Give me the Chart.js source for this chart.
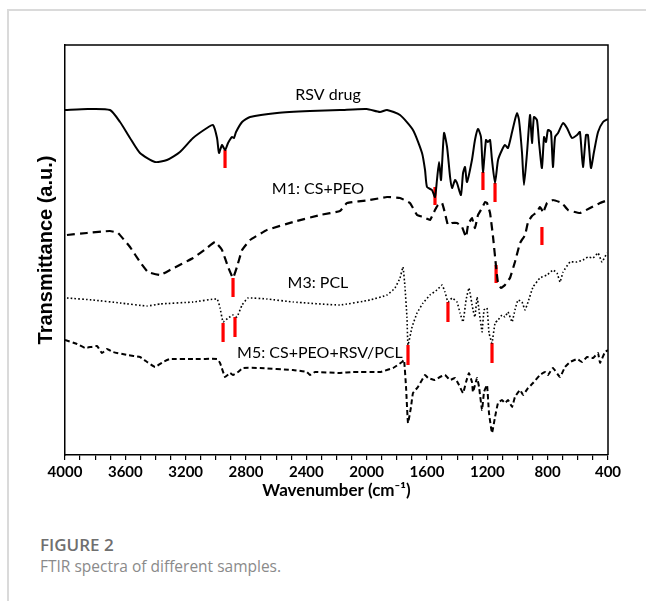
<!DOCTYPE html>
<html>
<head>
<meta charset="utf-8">
<script src="https://cdn.jsdelivr.net/npm/chart.js@4.4.1/dist/chart.umd.min.js"></script>
<style>
  html, body { margin: 0; padding: 0; background: #fff; }
  body { width: 646px; height: 601px; position: relative; overflow: hidden; }
  #card { position: absolute; left: 7px; top: 9px; width: 700px; height: 700px;
          border-top: 2px solid #dadada; border-left: 2px solid #dadada; box-sizing: border-box; }
  #wrap { position: absolute; left: 0; top: 0; width: 646px; height: 505px; }
  .cap1 { position: absolute; left: 40px; top: 534px; font-family: "Open Sans", "Noto Sans", sans-serif;
          font-size: 17px; font-weight: 600; color: #6f6f6f; line-height: 22px; }
  .cap2 { position: absolute; left: 40px; top: 555px; font-family: "Open Sans", "Noto Sans", sans-serif;
          font-size: 15.5px; font-weight: 400; color: #8a8a8a; line-height: 22px; }
</style>
</head>
<body>
<div id="card"></div>
<div id="wrap"><canvas id="c"></canvas></div>
<div class="cap1">FIGURE 2</div>
<div class="cap2">FTIR spectra of different samples.</div>
<script>
// Wavenumber (cm-1), transmittance (a.u., offset per sample as in the figure)
const rsvDrug = [[4000,345],[3850,346],[3702,345],[3635,333],[3569,317],[3503,302],[3403,293],[3324,295],[3238,303],[3151,317],[3059,327],[3019,330],[2992,317],[2979,302],[2959,310],[2939,305],[2919,312],[2893,318],[2880,317],[2866,323],[2826,333],[2773,338],[2594,342],[2376,344],[2177,345],[2000,346],[1912,343],[1865,345],[1779,340],[1693,325],[1633,302],[1613,285],[1600,268],[1567,265],[1547,258],[1534,275],[1520,293],[1507,275],[1487,322],[1467,308],[1447,278],[1434,267],[1414,275],[1401,272],[1375,260],[1361,282],[1348,288],[1335,273],[1302,295],[1282,315],[1262,326],[1242,318],[1229,283],[1209,315],[1196,313],[1182,315],[1169,295],[1149,272],[1129,295],[1103,305],[1083,310],[1063,307],[1036,323],[1017,335],[1003,342],[990,335],[970,302],[957,270],[937,302],[917,340],[904,312],[891,338],[871,335],[857,312],[838,287],[824,318],[811,313],[798,325],[778,323],[765,288],[751,318],[731,322],[698,332],[672,327],[639,317],[605,320],[586,323],[566,288],[546,320],[533,320],[513,287],[493,303],[466,323],[433,333],[400,336]];
const m1CsPeo = [[3987,220],[3854,222],[3702,224],[3649,222],[3569,208],[3503,193],[3450,183],[3370,180],[3304,185],[3151,197],[3059,207],[3005,213],[2959,205],[2919,188],[2886,177],[2860,188],[2826,205],[2773,215],[2661,225],[2488,233],[2309,240],[2177,244],[2130,252],[1978,255],[1865,258],[1779,257],[1713,252],[1666,240],[1626,238],[1580,235],[1547,245],[1527,250],[1500,252],[1481,242],[1461,230],[1434,232],[1401,232],[1368,228],[1341,218],[1328,230],[1302,237],[1282,227],[1262,240],[1235,247],[1215,253],[1202,252],[1182,242],[1162,218],[1142,188],[1129,172],[1109,167],[1083,170],[1050,177],[1017,193],[983,212],[950,220],[930,233],[904,239],[871,243],[851,248],[838,245],[831,242],[804,252],[765,255],[705,252],[665,245],[586,242],[519,247],[453,252],[400,255]];
const m3Pcl = [[3987,157],[3814,155],[3635,152],[3456,149],[3370,151],[3151,153],[2992,156],[2972,147],[2952,133],[2919,137],[2886,140],[2860,138],[2826,150],[2787,157],[2661,156],[2488,153],[2177,150],[1978,155],[1865,160],[1812,167],[1779,177],[1759,188],[1746,168],[1733,138],[1726,110],[1699,128],[1666,142],[1626,152],[1580,160],[1534,165],[1500,170],[1481,163],[1461,153],[1434,157],[1401,153],[1381,142],[1361,133],[1341,155],[1322,167],[1295,145],[1282,138],[1268,158],[1255,145],[1235,123],[1222,145],[1202,147],[1189,122],[1169,112],[1149,132],[1129,135],[1103,140],[1083,138],[1063,143],[1036,133],[1017,145],[997,155],[970,153],[950,145],[930,153],[897,168],[851,177],[804,180],[765,185],[738,182],[718,173],[698,183],[652,193],[605,193],[566,195],[533,198],[499,197],[466,202],[440,193],[407,202]];
const m5CsPeoRsvPcl = [[4000,115],[3920,111],[3867,107],[3788,109],[3755,102],[3722,106],[3682,103],[3589,100],[3503,98],[3456,93],[3403,88],[3350,93],[3304,96],[3151,96],[2992,96],[2972,92],[2939,78],[2906,82],[2886,80],[2853,83],[2820,87],[2707,87],[2488,85],[2396,83],[2376,80],[2342,83],[2177,82],[2091,83],[1912,83],[1825,87],[1766,93],[1752,95],[1739,68],[1726,32],[1706,48],[1693,62],[1660,68],[1613,80],[1593,77],[1547,75],[1514,78],[1481,80],[1447,75],[1414,77],[1388,70],[1361,62],[1341,73],[1322,82],[1302,73],[1295,63],[1268,77],[1255,68],[1235,45],[1222,63],[1202,70],[1189,42],[1169,22],[1149,38],[1129,52],[1103,55],[1083,52],[1063,55],[1036,48],[1017,58],[983,65],[963,60],[930,67],[897,72],[851,80],[818,83],[798,80],[765,87],[718,78],[685,88],[652,93],[605,96],[572,93],[539,98],[499,97],[466,102],[453,92],[420,103],[400,105]];

// Red band markers: [wavenumber, upper, lower]
const bandMarkers = [[2939,305,287],[1547,268,250],[1229,283,265],[1149,272,253],[2886,177,158],[1142,190,172],[838,228,210],[2952,132,113],[2873,138,118],[1461,153,133],[1726,110,90],[1169,112,92]];

const seriesNames = ["RSV drug", "M1: CS+PEO", "M3: PCL", "M5: CS+PEO+RSV/PCL"];
// label anchors [wavenumber, value]
const labelAnchors = [[2256,360],[2323,266],[2323,172],[2310,102]];
const xTickValues = [4000,3600,3200,2800,2400,2000,1600,1200,800,400];

const toXY = arr => arr.map(p => ({x: p[0], y: p[1]}));

const datasets = [
  {data: toXY(rsvDrug), borderColor: '#000', borderWidth: 2, tension: 0.2},
  {data: toXY(m1CsPeo), borderColor: '#000', borderWidth: 2.2, borderDash: [8,5], tension: 0.1},
  {data: toXY(m3Pcl), borderColor: '#000', borderWidth: 1.6, borderDash: [1.6,2.2], tension: 0.1},
  {data: toXY(m5CsPeoRsvPcl), borderColor: '#000', borderWidth: 2, borderDash: [5,3], tension: 0.1}
];
bandMarkers.forEach(m => datasets.push({
  data: [{x: m[0], y: m[1]}, {x: m[0], y: m[2]}],
  borderColor: '#ff0000', borderWidth: 3.2, borderCapStyle: 'butt', tension: 0
}));

const framePlugin = {
  id: 'frame',
  afterDraw(chart) {
    const {ctx, chartArea: a} = chart;
    ctx.save();
    ctx.strokeStyle = '#000';
    ctx.lineWidth = 1.5;
    ctx.beginPath();
    ctx.moveTo(a.left, a.top); ctx.lineTo(a.right, a.top); ctx.lineTo(a.right, a.bottom);
    ctx.stroke();
    // labels
    ctx.fillStyle = '#000';
    ctx.font = '16px Lato, "Open Sans", sans-serif';
    ctx.textAlign = 'center';
    ctx.textBaseline = 'middle';
    const xs = chart.scales.x, ys = chart.scales.y;
    seriesNames.forEach((n, i) => {
      ctx.fillText(n, xs.getPixelForValue(labelAnchors[i][0]), ys.getPixelForValue(labelAnchors[i][1]));
    });
    ctx.restore();
  }
};

new Chart(document.getElementById('c'), {
  type: 'line',
  data: {datasets},
  options: {
    responsive: true,
    maintainAspectRatio: false,
    animation: false,
    devicePixelRatio: 1,
    layout: {padding: {left: 30, right: 38, top: 45, bottom: 0}},
    elements: {point: {radius: 0}},
    plugins: {legend: {display: false}, tooltip: {enabled: false}},
    scales: {
      x: {
        type: 'linear', reverse: true, min: 400, max: 4000,
        afterFit: s => { s.height = 50; },
        ticks: {
          stepSize: 100, autoSkip: false, maxRotation: 0, color: '#000',
          font: {family: 'Lato, "Open Sans", sans-serif', size: 15, weight: 'bold'},
          callback: v => xTickValues.includes(v) ? String(v) : ''
        },
        grid: {drawOnChartArea: false, drawTicks: true, tickLength: 5, color: '#000', lineWidth: 1.2},
        border: {display: true, color: '#000', width: 1.5},
        title: {display: true, text: 'Wavenumber (cm⁻¹)', color: '#000',
                font: {family: 'Lato, "Open Sans", sans-serif', size: 17, weight: 'bold'},
                padding: {top: 2, bottom: 4}}
      },
      y: {
        min: 0, max: 410,
        afterFit: s => { s.width = 35; },
        ticks: {display: false},
        grid: {display: false},
        border: {display: true, color: '#000', width: 1.5},
        title: {display: true, text: 'Transmittance (a.u.)', color: '#000',
                font: {family: '"Liberation Sans", Arial, sans-serif', size: 20, weight: 'bold'},
                padding: {top: 4, bottom: 4}}
      }
    }
  },
  plugins: [framePlugin]
});
</script>
</body>
</html>
